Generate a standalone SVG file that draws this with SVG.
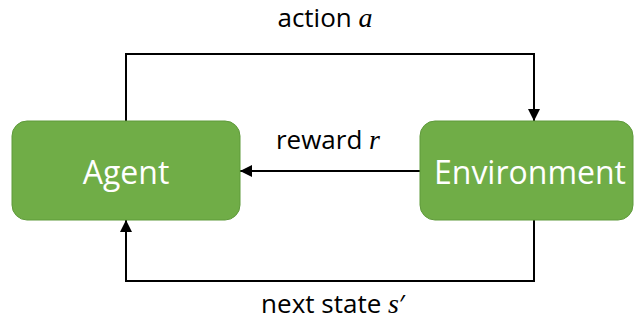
<svg xmlns="http://www.w3.org/2000/svg" width="637" height="331" viewBox="0 0 637 331">
<style>
.node{fill:#70AD47;stroke:#5F9A3B;stroke-width:1}
.ntext{font-family:"Open Sans","Liberation Sans",sans-serif;font-size:32px;fill:#FFFFFF;text-anchor:middle}
.lbl{font-family:"Open Sans","Liberation Sans",sans-serif;font-size:26px;fill:#000000;text-anchor:middle}
.math{font-family:"Liberation Serif",serif;font-style:italic;font-size:28px}
.conn{fill:none;stroke:#000000;stroke-width:2}
</style>
<defs>
<marker id="arr" viewBox="0 0 10 10" refX="10" refY="5" markerWidth="6" markerHeight="6" markerUnits="strokeWidth" orient="auto">
<path d="M0,0 L10,5 L0,10 z" fill="#000000"/>
</marker>
</defs>
<rect width="637" height="331" fill="#FFFFFF"/>
<g id="connectors">
<polyline class="conn" points="126,121 126,54 534,54 534,121" marker-end="url(#arr)"/>
<polyline class="conn" points="420,171 240,171" marker-end="url(#arr)"/>
<polyline class="conn" points="534,220 534,281 126,281 126,220" marker-end="url(#arr)"/>
</g>
<g id="agent">
<rect class="node" x="12" y="121" width="228" height="99" rx="15" ry="15"/>
<text class="ntext" x="126" y="184">Agent</text>
</g>
<g id="environment">
<rect class="node" x="420" y="121" width="213" height="99" rx="15" ry="15"/>
<text class="ntext" x="530" y="184">Environment</text>
</g>
<g id="labels">
<text class="lbl" x="325" y="27">action <tspan class="math">a</tspan></text>
<text class="lbl" x="328" y="149">reward <tspan class="math">r</tspan></text>
<text class="lbl" x="333" y="313">next state <tspan class="math">s</tspan>′</text>
</g>
</svg>
